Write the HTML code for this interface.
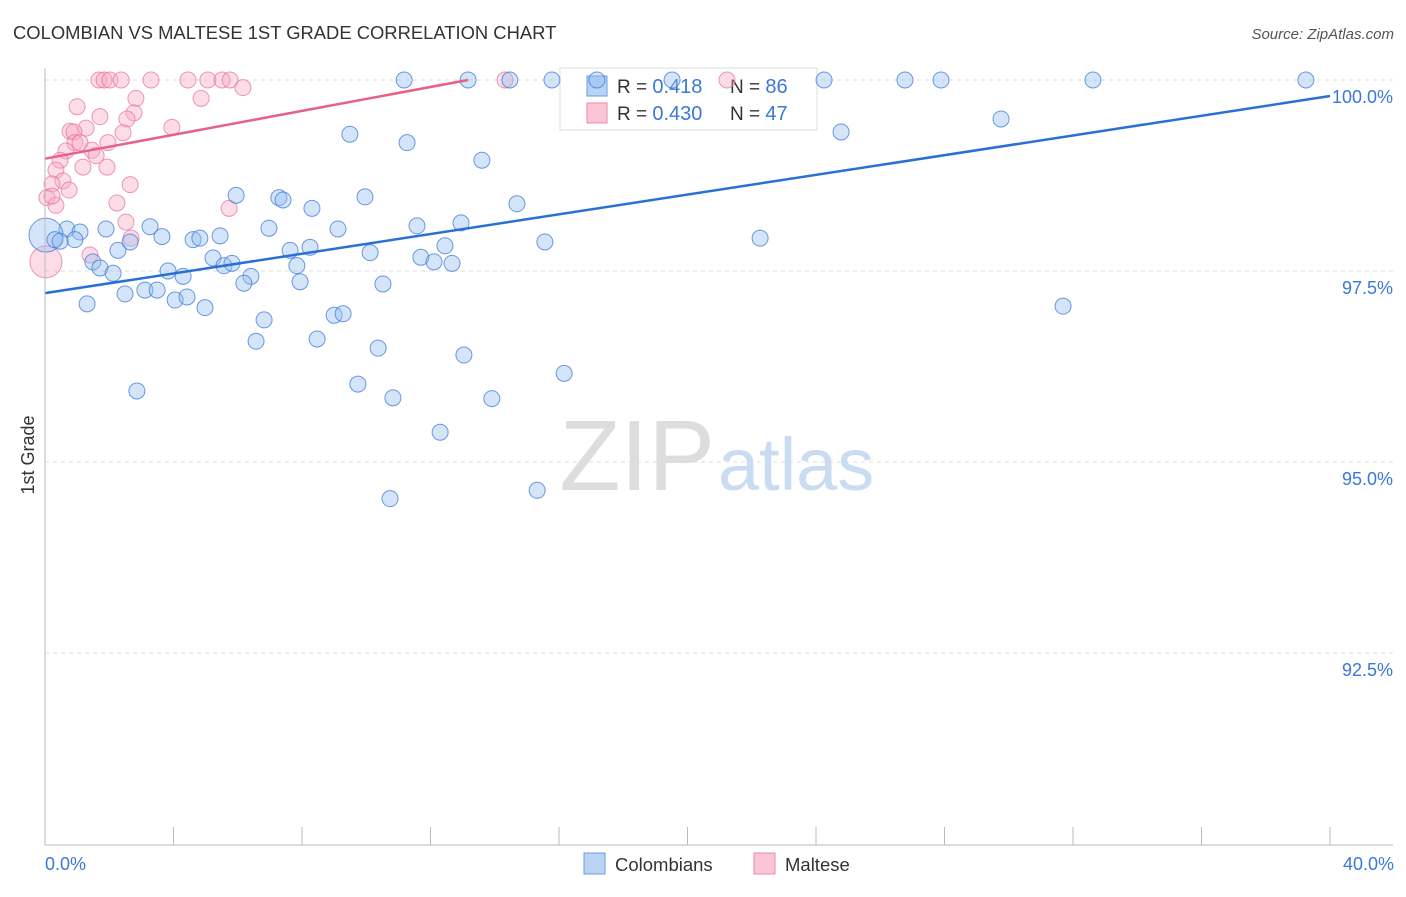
<!DOCTYPE html>
<html><head><meta charset="utf-8"><style>
body{margin:0;background:#fff;font-family:"Liberation Sans",sans-serif;}
svg text{font-family:"Liberation Sans",sans-serif;}
</style></head><body>
<svg width="1406" height="892">
<text x="13" y="39" font-size="18.4" fill="#333">COLOMBIAN VS MALTESE 1ST GRADE CORRELATION CHART</text>
<text x="1394" y="39" font-size="15" fill="#555" font-style="italic" text-anchor="end">Source: ZipAtlas.com</text>
<g id="grid"></g>
<text x="715" y="490" font-size="100" fill="#ddd" text-anchor="end" font-family="Liberation Serif,serif">ZIP</text>
<text x="718" y="490" font-size="74" fill="#c9dcf2">atlas</text>
<g>
<rect x="560" y="68" width="257" height="62" fill="#fff" stroke="#ddd"/>
<rect x="587" y="76" width="20" height="20" fill="#b9d3f5" stroke="#6a9de0"/>
<rect x="587" y="103" width="20" height="20" fill="#fac6d6" stroke="#ee8aa8"/>
<text x="617" y="93" font-size="19" fill="#333">R = <tspan fill="#3b78d8" font-size="20">0.418</tspan><tspan x="730">N = </tspan><tspan fill="#3b78d8" font-size="20">86</tspan></text>
<text x="617" y="120" font-size="19" fill="#333">R = <tspan fill="#3b78d8" font-size="20">0.430</tspan><tspan x="730">N = </tspan><tspan fill="#3b78d8" font-size="20">47</tspan></text>
</g>
<g id="pts"></g>
<g id="axes"></g>
<text x="34" y="455" font-size="18" fill="#333" text-anchor="middle" transform="rotate(-90 34 455)">1st Grade</text>
<text x="45" y="870" font-size="18" fill="#3b78d8">0.0%</text>
<text x="1394" y="870" font-size="18" fill="#3b78d8" text-anchor="end">40.0%</text>
<g>
<rect x="584" y="853" width="21" height="21" fill="#b9d3f5" stroke="#6a9de0"/>
<text x="615" y="871" font-size="18.5" fill="#333">Colombians</text>
<rect x="754" y="853" width="21" height="21" fill="#fac6d6" stroke="#ee8aa8"/>
<text x="785" y="871" font-size="18.5" fill="#333">Maltese</text>
</g>
</svg>
<script>
const yTicks=[100,97.5,95,92.5];
const yTickLabels=["100.0%","97.5%","95.0%","92.5%"];
const blueX=[11.18,13.17,14.47,15.78,17.18,19.52,24.25,26.77,27.89,32.62,39.25,9.49,11.27,13.60,24.78,29.76,5.95,7.28,7.41,8.31,9.96,14.69,12.95,11.58,9.12,6.97,3.27,1.90,0.68,1.09,3.64,4.61,4.82,5.45,0.03,0.31,0.93,0.47,2.65,2.27,7.63,8.25,10.12,12.45,15.56,22.26,1.49,1.71,2.12,3.83,4.30,5.23,5.57,5.82,6.41,6.19,7.84,7.94,10.52,11.70,12.11,12.67,2.49,3.11,3.49,4.05,4.42,4.98,1.31,6.82,9.00,9.28,8.47,6.57,10.37,13.04,31.69,2.86,9.74,10.83,13.91,16.16,12.30,10.74,15.32];
const blueY=[100,100,100,100,100,100,100,100,100,100,100,99.29,99.18,98.95,99.32,99.49,98.49,98.46,98.43,98.32,98.47,98.38,98.13,98.09,98.05,98.06,98.08,98.05,98.05,98.01,97.95,97.91,97.93,97.96,97.97,97.91,97.91,97.89,97.88,97.77,97.77,97.81,97.74,97.83,97.88,97.93,97.62,97.54,97.47,97.50,97.43,97.67,97.57,97.60,97.43,97.34,97.57,97.36,97.33,97.68,97.62,97.60,97.20,97.25,97.25,97.12,97.16,97.02,97.07,96.86,96.92,96.94,96.61,96.58,96.49,96.40,97.04,95.93,96.02,95.84,95.83,96.16,95.39,94.52,94.63];
const pinkX=[1.68,1.84,2.02,2.37,3.30,4.45,5.07,5.51,5.76,14.32,21.23,6.16,4.86,2.83,1.00,2.77,1.71,2.55,1.28,3.95,2.43,0.78,0.90,1.96,0.93,1.09,0.65,1.46,1.59,0.47,0.34,1.18,1.93,0.56,0.22,0.75,2.65,0.06,0.34,2.24,5.73,2.52,2.68,1.40,0.03,0.22];
const pinkY=[100,100,100,100,100,100,100,100,100,100,100,99.90,99.76,99.76,99.65,99.57,99.52,99.49,99.37,99.38,99.31,99.33,99.32,99.18,99.18,99.18,99.07,99.08,99.01,98.95,98.82,98.86,98.86,98.68,98.64,98.56,98.63,98.46,98.36,98.39,98.32,98.14,97.93,97.71,97.62,98.48];
const blueTrend=[[0,97.21],[40,99.79]];
const pinkTrend=[[0,98.97],[13.17,100]];
const NS="http://www.w3.org/2000/svg";
const sx=v=>45+v/40*1285, sy=v=>80+(100-v)/2.5*191;
function mk(t,a,p){const e=document.createElementNS(NS,t);for(const k in a)e.setAttribute(k,a[k]);p.appendChild(e);return e;}
const grid=document.getElementById('grid');
yTicks.forEach((t,i)=>{
 const l=mk('line',{x1:45,x2:1393,y1:sy(t),y2:sy(t),stroke:'#ddd','stroke-dasharray':'4,4'},grid);
 
 
 const tx=mk('text',{x:1393,y:sy(t)+23,'font-size':18,fill:'#3b78d8','text-anchor':'end'},grid);
 tx.textContent=yTickLabels[i];
 
 
});
const axes=document.getElementById('axes');
mk('line',{x1:45,x2:45,y1:68,y2:845,stroke:'#bbb'},axes);
mk('line',{x1:45,x2:1393,y1:845,y2:845,stroke:'#bbb'},axes);
for(let i=0;i<=10;i++){const t=mk('line',{x1:sx(i*4),x2:sx(i*4),y1:827,y2:845,stroke:'#bbb'},axes);
 
 }
const pts=document.getElementById('pts');
pinkX.forEach((x,i)=>{const r=(i===44)?16:8;
 const c=mk('circle',{cx:sx(x),cy:sy(pinkY[i]),r:r,fill:'rgba(248,170,195,0.4)',stroke:'rgba(232,110,150,0.7)','stroke-width':1},pts);
 
 });
blueX.forEach((x,i)=>{const r=(i===34)?17:8;
 const c=mk('circle',{cx:sx(x),cy:sy(blueY[i]),r:r,fill:'rgba(150,190,240,0.4)',stroke:'rgba(60,120,215,0.75)','stroke-width':1},pts);
 
 });
const bl=mk('line',{x1:sx(blueTrend[0][0]),y1:sy(blueTrend[0][1]),x2:sx(blueTrend[1][0]),y2:sy(blueTrend[1][1]),stroke:'#2a6fd6','stroke-width':2.5},pts);


const pl=mk('line',{x1:sx(pinkTrend[0][0]),y1:sy(pinkTrend[0][1]),x2:sx(pinkTrend[1][0]),y2:sy(pinkTrend[1][1]),stroke:'#e8608a','stroke-width':2.5},pts);


</script>
</body></html>
